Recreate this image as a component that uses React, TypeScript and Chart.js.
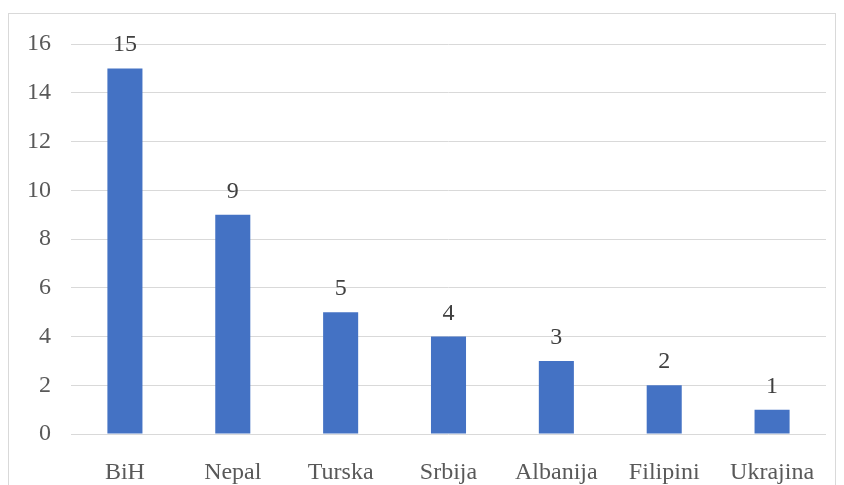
import React, { useEffect, useRef } from "react";
import { Chart, registerables } from "chart.js";

Chart.register(...registerables);

const categories = ["BiH", "Nepal", "Turska", "Srbija", "Albanija", "Filipini", "Ukrajina"];
const values = [15, 9, 5, 4, 3, 2, 1];
const yTicks = [0, 2, 4, 6, 8, 10, 12, 14, 16];

const FONT = "'Liberation Serif', 'Times New Roman', serif";

const dataLabels = {
  id: "dataLabels",
  afterDatasetsDraw(chart: any) {
    const ctx = chart.ctx;
    const meta = chart.getDatasetMeta(0);
    ctx.save();
    ctx.font = `24px ${FONT}`;
    ctx.fillStyle = "#404040";
    ctx.textAlign = "center";
    ctx.textBaseline = "alphabetic";
    meta.data.forEach((bar: any, i: number) => {
      ctx.fillText(String(values[i]), bar.x, bar.y - 17);
    });
    ctx.restore();
  },
};

export default function App() {
  const ref = useRef<HTMLCanvasElement>(null);
  useEffect(() => {
    document.documentElement.style.overflow = "hidden";
    const chart = new Chart(ref.current!, {
      type: "bar",
      data: {
        labels: categories,
        datasets: [
          {
            data: values,
            backgroundColor: "#4472C4",
            borderWidth: 0,
            categoryPercentage: 1,
            barPercentage: 0.325,
          },
        ],
      },
      options: {
        animation: false,
        responsive: false,
        maintainAspectRatio: false,
        layout: { padding: { top: 30, right: 9, left: 0, bottom: 0 } },
        plugins: { legend: { display: false }, tooltip: { enabled: false } },
        scales: {
          x: {
            grid: { display: false },
            border: { display: false },
            ticks: {
              color: "#595959",
              font: { family: FONT, size: 24 },
              padding: 16,
              maxRotation: 0,
            },
            afterFit(scale: any) {
              scale.height = 52;
              scale.paddingLeft = 0;
              scale.paddingRight = 0;
            },
          },
          y: {
            min: 0,
            max: 16,
            afterBuildTicks(scale: any) {
              scale.ticks = yTicks.map((v) => ({ value: v }));
            },
            grid: { color: "#d9d9d9", lineWidth: 1, drawTicks: false },
            border: { display: false },
            ticks: {
              color: "#595959",
              font: { family: FONT, size: 24 },
              padding: 20,
            },
            afterFit(scale: any) {
              scale.width = 62;
              scale.paddingTop = 0;
              scale.paddingBottom = 0;
            },
          },
        },
      },
      plugins: [dataLabels],
    });
    return () => chart.destroy();
  }, []);

  return (
    <div
      style={{
        position: "absolute",
        left: 8,
        top: 13,
        width: 826,
        height: 472,
        border: "1px solid #d9d9d9",
        background: "#fff",
      }}
    >
      <canvas ref={ref} width={826} height={472} style={{ display: "block" }} />
    </div>
  );
}
